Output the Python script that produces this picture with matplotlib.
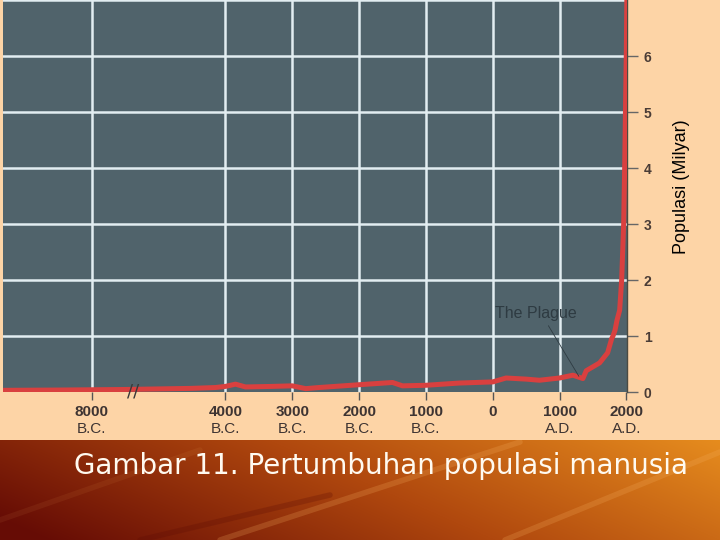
"""
plot.py
=======
Pertumbuhan populasi manusia (8000 B.C. - 2000 A.D.), broken time axis.
"""

import numpy as np
import matplotlib
matplotlib.use("Agg")
import matplotlib.pyplot as plt
import matplotlib.transforms as mtransforms

# ── Data ──────────────────────────────────────────────────────────────────────
years = [-10660, -9000, -8000, -7000, -6000, -5000, -4300, -4000, -3850, -3700,
         -3300, -3000, -2800, -2600, -2000, -1500, -1350, -1000, -500, 0,
         200, 500, 700, 1000, 1200, 1300, 1350, 1400, 1600, 1720,
         1780, 1800, 1830, 1860, 1900, 1930, 1960, 1975, 1987, 1999, 2010]
pop_milyar = [0.03, 0.035, 0.04, 0.045, 0.055, 0.065, 0.08, 0.10, 0.14, 0.09,
              0.10, 0.11, 0.06, 0.08, 0.13, 0.17, 0.11, 0.12, 0.16, 0.18,
              0.25, 0.23, 0.21, 0.25, 0.30, 0.26, 0.24, 0.38, 0.52, 0.70,
              0.95, 1.00, 1.10, 1.28, 1.46, 2.00, 3.00, 4.00, 5.00, 6.00, 7.30]

tick_years = [-8000, -4000, -3000, -2000, -1000, 0, 1000, 2000]
tick_nums  = ["8000", "4000", "3000", "2000", "1000", "0", "1000", "2000"]
tick_eras  = ["B.C.", "B.C.", "B.C.", "B.C.", "B.C.", "", "A.D.", "A.D."]
y_ticks    = [0, 1, 2, 3, 4, 5, 6]

plague_year, plague_pop = 1290, 0.28
break_year = -6750

caption = "Gambar 11. Pertumbuhan populasi manusia"
y_label = "Populasi (Milyar)"

# ── Colours ───────────────────────────────────────────────────────────────────
PEACH = "#fdd4a6"
SLATE = "#50636b"
GRID  = "#e2edf1"
RED   = "#d9403f"
INK   = "#3e3432"


def fwd(x):
    """Compress everything before 4000 B.C. by a factor of two."""
    x = np.asarray(x, dtype=float)
    return np.where(x < -4000, -4000 + (x + 4000) * 0.5, x)


def inv(x):
    x = np.asarray(x, dtype=float)
    return np.where(x < -4000, -4000 + (x + 4000) * 2.0, x)


def draw_banner(fig):
    """Brown-to-orange gradient strip with the caption."""
    bax = fig.add_axes([0, 0, 1, 100 / 540])
    bax.set_axis_off()
    h, w = 100, 720
    xx, yy = np.meshgrid(np.linspace(0, 1, w), np.linspace(1, 0, h))
    t = np.clip(0.8 * xx + 0.25 * yy - 0.05, 0, 1)[..., None]
    c0 = np.array([0x66, 0x0c, 0x05]) / 255
    c1 = np.array([0xb0, 0x48, 0x0e]) / 255
    c2 = np.array([0xe6, 0x8c, 0x1e]) / 255
    img = np.where(t < 0.5, c0 + (c1 - c0) * (t / 0.5),
                   c1 + (c2 - c1) * ((t - 0.5) / 0.5))
    bax.imshow(img, extent=(0, w, 0, h), aspect="auto")
    # faint diagonal streaks
    for (x0, y0, x1, y1, a, col) in [(220, 0, 520, 98, 0.22, "#f6b060"),
                                     (505, 0, 720, 88, 0.22, "#f6b060"),
                                     (0, 20, 200, 90, 0.08, "#f6b060"),
                                     (140, 0, 330, 45, 0.25, "#5a0a04")]:
        bax.plot([x0, x1], [y0, y1], color=col, lw=4, alpha=a,
                 solid_capstyle="round")
    bax.set_xlim(0, w)
    bax.set_ylim(0, h)
    fig.text(381 / 720, (540 - 474) / 540, caption, color="#fffaf0",
             fontsize=20, family="DejaVu Sans", ha="center", va="baseline")


def main():
    fig = plt.figure(figsize=(7.2, 5.4), dpi=100, facecolor=PEACH)

    ax = fig.add_axes([3 / 720, 148 / 540, 624 / 720, 392 / 540])
    ax.set_facecolor(SLATE)
    ax.set_xscale("function", functions=(fwd, inv))
    ax.set_xlim(-10660, 2010)
    ax.set_ylim(0, 7)

    # grid
    for yr in tick_years[:-1]:
        ax.axvline(yr, color=GRID, lw=1.8, zorder=1)
    for v in range(1, 8):
        ax.axhline(v, color=GRID, lw=1.8, zorder=1)

    # population curve
    ax.plot(years, pop_milyar, color=RED, lw=3.6, solid_joinstyle="round",
            zorder=3)

    # axis break marks
    trans = mtransforms.blended_transform_factory(ax.transData, ax.transAxes)
    ax.text(break_year, 0.0, "//", transform=trans, fontsize=13, color="#3a3a3a",
            ha="center", va="center", zorder=4, clip_on=False)

    # annotation
    ax.annotate("The Plague", xy=(plague_year, plague_pop), xytext=(640, 1.41),
                fontsize=11.5, color="#2e3b42", ha="center", va="center",
                family="Liberation Sans",
                arrowprops=dict(arrowstyle="-", color="#2e3b42", lw=0.6,
                                relpos=(0.62, 0.0), shrinkA=2, shrinkB=0),
                zorder=4)

    for name, s in ax.spines.items():
        if name == "right":
            s.set_color("#4a4a42")
            s.set_linewidth(1.0)
        else:
            s.set_visible(False)

    # x ticks: bold number plus era on a second line
    ax.set_xticks(tick_years)
    ax.set_xticklabels([])
    ax.tick_params(axis="x", direction="out", length=6, width=1, color="#555555")
    for yr, num, era in zip(tick_years, tick_nums, tick_eras):
        ax.text(yr, -20 / 392, num, transform=trans, ha="center", va="center",
                fontsize=11, fontweight="bold", color=INK,
                family="Liberation Sans")
        if era:
            ax.text(yr, -37 / 392, era, transform=trans, ha="center",
                    va="center", fontsize=11, color=INK,
                    family="Liberation Sans")

    # y ticks on the right
    ax.yaxis.tick_right()
    ax.set_yticks(y_ticks)
    ax.set_yticklabels([str(v) for v in y_ticks], fontsize=10,
                       fontweight="bold", color="#4a3c36",
                       family="Liberation Sans")
    ax.tick_params(axis="y", direction="out", length=8, width=1,
                   color="#666666", pad=4, left=False)

    fig.text(682 / 720, (540 - 187) / 540, y_label, rotation=90, fontsize=13,
             color="black", ha="center", va="center", family="Liberation Sans")

    draw_banner(fig)

    fig.savefig("out.png", dpi=100, facecolor=PEACH)


if __name__ == "__main__":
    main()
